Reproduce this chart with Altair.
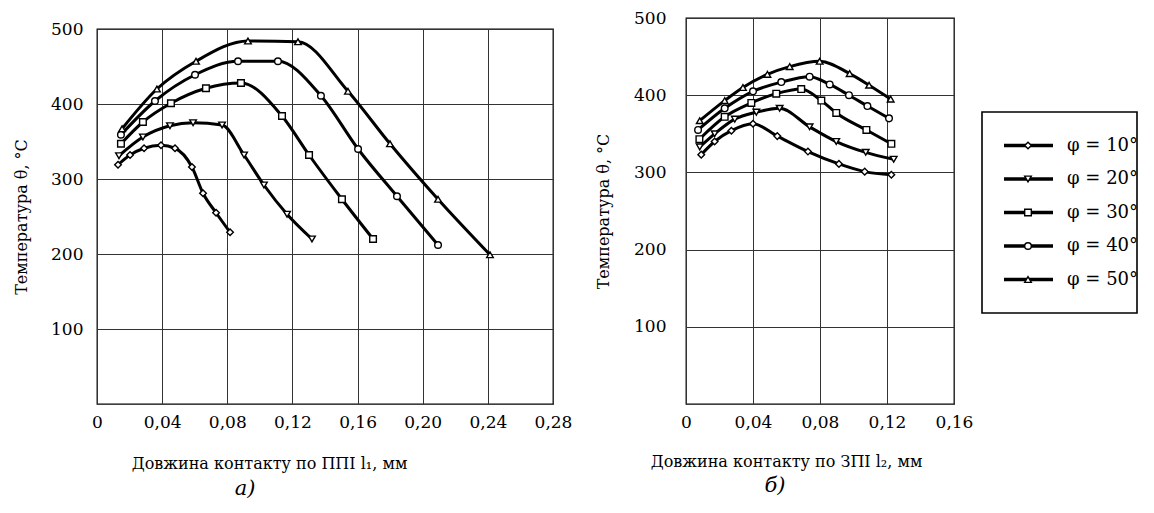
import altair as alt
import pandas as pd

FONT = "DejaVu Serif"

phi_labels = ["φ = 10°", "φ = 20°", "φ = 30°", "φ = 40°", "φ = 50°"]
shapes = ["diamond", "triangle-down", "square", "circle", "triangle-up"]

# ---- panel a) : contact length along rake face, mm
a10_x = [0.0129, 0.0203, 0.0289, 0.0393, 0.0479, 0.0583, 0.0651, 0.0731, 0.0817]
a10_y = [319, 332, 341, 345, 341, 316, 281, 255, 229]
a20_x = [0.0135, 0.0282, 0.0448, 0.0590, 0.0768, 0.0903, 0.1025, 0.1167, 0.1320]
a20_y = [331, 356, 371, 375, 372, 332, 292, 253, 220]
a30_x = [0.0147, 0.0282, 0.0454, 0.0669, 0.0884, 0.1136, 0.1302, 0.1504, 0.1695]
a30_y = [347, 376, 401, 421, 428, 384, 332, 273, 220]
a40_x = [0.0147, 0.0356, 0.0602, 0.0866, 0.1111, 0.1375, 0.1603, 0.1842, 0.2094]
a40_y = [359, 404, 439, 457, 457, 411, 340, 277, 212]
a50_x = [0.0154, 0.0368, 0.0608, 0.0927, 0.1234, 0.1541, 0.1799, 0.2094, 0.2413]
a50_y = [367, 420, 457, 484, 483, 417, 347, 273, 199]

# ---- panel б) : contact length along flank face, mm
b10_x = [0.0091, 0.0171, 0.0271, 0.0400, 0.0545, 0.0728, 0.0913, 0.1067, 0.1226]
b10_y = [323, 340, 354, 363, 347, 327, 311, 301, 297]
b20_x = [0.0082, 0.0171, 0.0291, 0.0420, 0.0559, 0.0738, 0.0897, 0.1073, 0.1240]
b20_y = [333, 350, 369, 378, 383, 359, 340, 326, 317]
b30_x = [0.0080, 0.0231, 0.0390, 0.0539, 0.0688, 0.0808, 0.0897, 0.1077, 0.1226]
b30_y = [343, 372, 390, 402, 408, 393, 377, 355, 337]
b40_x = [0.0072, 0.0231, 0.0400, 0.0569, 0.0738, 0.0858, 0.0973, 0.1083, 0.1212]
b40_y = [355, 383, 405, 417, 424, 414, 400, 386, 370]
b50_x = [0.0082, 0.0231, 0.0340, 0.0486, 0.0619, 0.0798, 0.0977, 0.1093, 0.1222]
b50_y = [367, 393, 410, 427, 437, 444, 428, 413, 395]

a_ticks = [0, 0.04, 0.08, 0.12, 0.16, 0.20, 0.24, 0.28]
b_ticks = [0, 0.04, 0.08, 0.12, 0.16]
y_ticks = [100, 200, 300, 400, 500]

y_title = "Температура θ, °C"
a_xtitle = "Довжина контакту по ППІ l₁, мм"
b_xtitle = "Довжина контакту по ЗПІ l₂, мм"


def make_df(xs_list, ys_list):
    rows = []
    for lab, xs, ys in zip(phi_labels, xs_list, ys_list):
        for i, (x, y) in enumerate(zip(xs, ys)):
            rows.append({"phi": lab, "x": x, "y": y, "i": i})
    return pd.DataFrame(rows)


df_a = make_df([a10_x, a20_x, a30_x, a40_x, a50_x], [a10_y, a20_y, a30_y, a40_y, a50_y])
df_b = make_df([b10_x, b20_x, b30_x, b40_x, b50_x], [b10_y, b20_y, b30_y, b40_y, b50_y])

shape_scale = alt.Scale(domain=phi_labels, range=shapes)
label_expr = "datum.value == 0 ? '0' : replace(format(datum.value, '.2f'), '.', ',')"


def panel(df, ticks, xtitle, xtitle_x, sub, subdx, w, h, ylabpad, ytitlepad, xtpad, suboff):
    xenc = alt.X(
        "x:Q",
        scale=alt.Scale(domain=[0, ticks[-1]], nice=False, zero=True),
        axis=alt.Axis(values=ticks, labelExpr=label_expr, title=xtitle, grid=True,
                      ticks=False, domain=False, labelPadding=10, titlePadding=xtpad,
                      titleX=xtitle_x, titleAlign="center",
                      labelFlush=False, labelOverlap=False),
    )
    yenc = alt.Y(
        "y:Q",
        scale=alt.Scale(domain=[0, 500], nice=False),
        axis=alt.Axis(values=y_ticks, title=y_title, grid=True, ticks=False, domain=False,
                      labelPadding=ylabpad, titlePadding=ytitlepad),
    )
    base = alt.Chart(df)
    line = base.mark_line(color="black", strokeWidth=3, interpolate="monotone").encode(
        x=xenc, y=yenc, detail="phi:N", order="i:Q"
    )
    pts = base.mark_point(filled=True, fill="white", stroke="black", strokeWidth=1.4,
                          size=44, opacity=1).encode(
        x="x:Q", y="y:Q", shape=alt.Shape("phi:N", scale=shape_scale, legend=None)
    )
    return alt.layer(line, pts).properties(
        width=w, height=h,
        title=alt.TitleParams(sub, orient="bottom", anchor="middle", frame="group",
                              font=FONT, fontSize=21, fontStyle="italic",
                              fontWeight="normal", offset=suboff, dx=subdx, color="black"),
        view=alt.ViewBackground(stroke="black", strokeWidth=1.3),
    )


def spacer(h):
    return alt.Chart(pd.DataFrame({"s": [0]})).mark_point(opacity=0, size=0).properties(
        width=1, height=h, view=alt.ViewBackground(strokeOpacity=0)
    )


left = panel(df_a, a_ticks, a_xtitle, 172, "а)", -80, 456, 375, 14, 21, 25, 7)
right = panel(df_b, b_ticks, b_xtitle, 100, "б)", -45, 268, 386, 20, 22, 23, 6)

leg_df = pd.DataFrame({"phi": phi_labels})
ly = alt.Y("phi:N", scale=alt.Scale(type="point", domain=phi_labels, padding=1.14), axis=None)
leg_rule = alt.Chart(leg_df).mark_rule(color="black", strokeWidth=3.5).encode(
    x=alt.value(22), x2=alt.value(71), y=ly
)
leg_pts = alt.Chart(leg_df).mark_point(filled=True, fill="white", stroke="black",
                                       strokeWidth=1.4, size=44, opacity=1).encode(
    x=alt.value(46), y=ly, shape=alt.Shape("phi:N", scale=shape_scale, legend=None)
)
leg_txt = alt.Chart(leg_df).mark_text(align="left", baseline="middle", font=FONT,
                                      fontSize=18, color="black").encode(
    x=alt.value(85), y=ly, text="phi:N"
)
legend = alt.layer(leg_rule, leg_pts, leg_txt).properties(
    width=155, height=201, view=alt.ViewBackground(stroke="black", strokeWidth=1.6)
)

left_col = alt.vconcat(spacer(1), left, spacing=0)
legend_col = alt.vconcat(spacer(93), legend, spacing=0)
inner = alt.hconcat(right, legend_col, spacing=7)

chart = alt.hconcat(left_col, inner, spacing=21).properties(
    padding={"left": 4, "top": 0, "right": 0, "bottom": 0},
    background="white",
).configure_axis(
    labelFont=FONT, labelFontSize=17, labelColor="black",
    titleFont=FONT, titleFontSize=16, titleFontWeight="normal", titleColor="black",
    gridColor="#333333", gridWidth=1, gridOpacity=1,
)

chart.save("out.html", embed_options={"renderer": "svg", "actions": False})
